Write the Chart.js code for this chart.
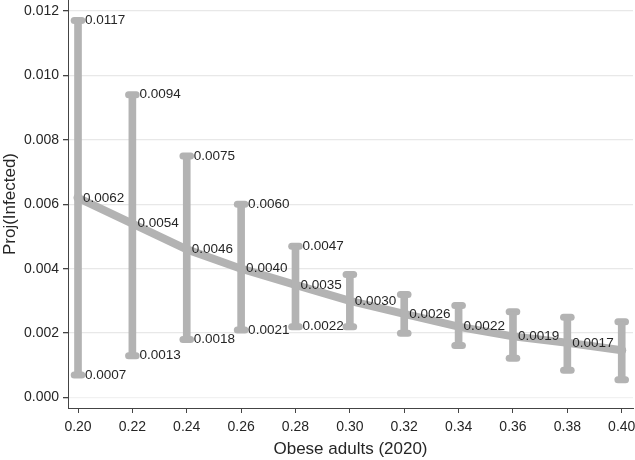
<!DOCTYPE html>
<html>
<head>
<meta charset="utf-8">
<script src="https://cdn.jsdelivr.net/npm/chart.js@4"></script>
<style>
  body { margin: 0; background: #fff; }
</style>
</head>
<body>
<canvas id="projChart" width="635" height="460"></canvas>
<script>
// share of obese adults (2020)
const xVals = [0.20, 0.22, 0.24, 0.26, 0.28, 0.30, 0.32, 0.34, 0.36, 0.38, 0.40];
// projected infected share + CI
const estimate = [0.0062, 0.0054, 0.0046, 0.0040, 0.0035, 0.0030, 0.0026, 0.0022, 0.0019, 0.0017, 0.00147];
const upper = [0.0117, 0.0094, 0.0075, 0.0060, 0.0047, 0.00382, 0.0032, 0.00286, 0.00266, 0.00249, 0.00235];
const lower = [0.0007, 0.0013, 0.0018, 0.0021, 0.0022, 0.0022, 0.0020, 0.00162, 0.00122, 0.00085, 0.00055];

// text printed next to the markers
const estLabels = ['0.0062', '0.0054', '0.0046', '0.0040', '0.0035', '0.0030', '0.0026', '0.0022', '0.0019', '0.0017', ''];
const upperLabels = ['0.0117', '0.0094', '0.0075', '0.0060', '0.0047', '', '', '', '', '', ''];
const lowerLabels = ['0.0007', '0.0013', '0.0018', '0.0021', '0.0022', '', '', '', '', '', ''];

const xTicks = [0.20, 0.22, 0.24, 0.26, 0.28, 0.30, 0.32, 0.34, 0.36, 0.38, 0.40];
const yTicks = [0.000, 0.002, 0.004, 0.006, 0.008, 0.010, 0.012];

const gray = '#b3b3b3';
const font = '"Liberation Sans", Arial, Helvetica, sans-serif';

const roundCaps = {
    id: 'roundCaps',
    beforeDatasetsDraw(chart) { chart.ctx.lineCap = 'round'; },
    afterDatasetsDraw(chart) { chart.ctx.lineCap = 'butt'; }
};

const valueLabels = {
    id: 'valueLabels',
    afterDatasetsDraw(chart) {
        const { ctx, scales: { x, y } } = chart;
        ctx.save();
        ctx.font = '13.5px ' + font;
        ctx.fillStyle = '#262626';
        ctx.textAlign = 'left';
        ctx.textBaseline = 'middle';
        xVals.forEach((v, i) => {
            const px = x.getPixelForValue(v);
            if (estLabels[i]) ctx.fillText(estLabels[i], px + 5, y.getPixelForValue(estimate[i]));
            if (upperLabels[i]) ctx.fillText(upperLabels[i], px + 7, y.getPixelForValue(upper[i]));
            if (lowerLabels[i]) ctx.fillText(lowerLabels[i], px + 7, y.getPixelForValue(lower[i]));
        });
        ctx.restore();
    }
};

const capPoints = xVals.map((v, i) => ({ x: v, y: upper[i] }))
    .concat(xVals.map((v, i) => ({ x: v, y: lower[i] })));

const ctx = document.getElementById('projChart').getContext('2d');
new Chart(ctx, {
    type: 'scatter',
    data: {
        datasets: [
            {
                type: 'bar',
                data: xVals.map((v, i) => ({ x: v, y: [lower[i], upper[i]] })),
                backgroundColor: gray,
                borderWidth: 0,
                barThickness: 7
            },
            {
                type: 'scatter',
                data: capPoints,
                pointStyle: 'line',
                radius: 3.8,
                borderWidth: 7,
                borderColor: gray,
                backgroundColor: gray,
                clip: false
            },
            {
                type: 'line',
                data: xVals.map((v, i) => ({ x: v, y: estimate[i] })),
                borderColor: gray,
                backgroundColor: gray,
                borderWidth: 8,
                borderJoinStyle: 'round',
                borderCapStyle: 'round',
                pointRadius: 4.5,
                pointBorderWidth: 0,
                fill: false,
                tension: 0,
                clip: false
            }
        ]
    },
    options: {
        responsive: false,
        animation: false,
        layout: { autoPadding: false, padding: { top: 0, right: 2, left: 0, bottom: 0 } },
        plugins: {
            legend: { display: false },
            tooltip: { enabled: false }
        },
        scales: {
            x: {
                type: 'linear',
                min: 0.19632,
                max: 0.40415,
                offset: false,
                afterBuildTicks: s => { s.ticks = xTicks.map(v => ({ value: v })); },
                afterFit: s => {
                    s.height = 52;
                    s.paddingLeft = 0;
                    s.paddingRight = 0;
                },
                grid: { drawOnChartArea: false, offset: false, tickLength: 5, tickColor: '#444', drawTicks: true },
                border: { color: '#444', width: 1 },
                ticks: {
                    font: { family: font, size: 14 },
                    color: '#262626',
                    padding: 6,
                    maxRotation: 0,
                    callback: v => v.toFixed(2)
                },
                title: {
                    display: true,
                    text: 'Obese adults (2020)',
                    font: { family: font, size: 17 },
                    color: '#262626',
                    padding: 0
                }
            },
            y: {
                min: -0.000323,
                max: 0.012338,
                afterBuildTicks: s => { s.ticks = yTicks.map(v => ({ value: v })); },
                afterFit: s => {
                    s.width = 68;
                    s.paddingTop = 0;
                    s.paddingBottom = 0;
                },
                grid: {
                    color: c => c.tick && c.tick.value === 0 ? '#f1f1f1' : '#e8e8e8',
                    lineWidth: 1.3,
                    tickLength: 5,
                    tickColor: '#444'
                },
                border: { color: '#444', width: 1 },
                ticks: {
                    font: { family: font, size: 14 },
                    color: '#262626',
                    padding: 4,
                    callback: v => v.toFixed(3)
                },
                title: {
                    display: true,
                    text: 'Proj(Infected)',
                    font: { family: font, size: 17 },
                    color: '#262626',
                    padding: 0
                }
            }
        }
    },
    plugins: [roundCaps, valueLabels]
});
</script>
</body>
</html>
